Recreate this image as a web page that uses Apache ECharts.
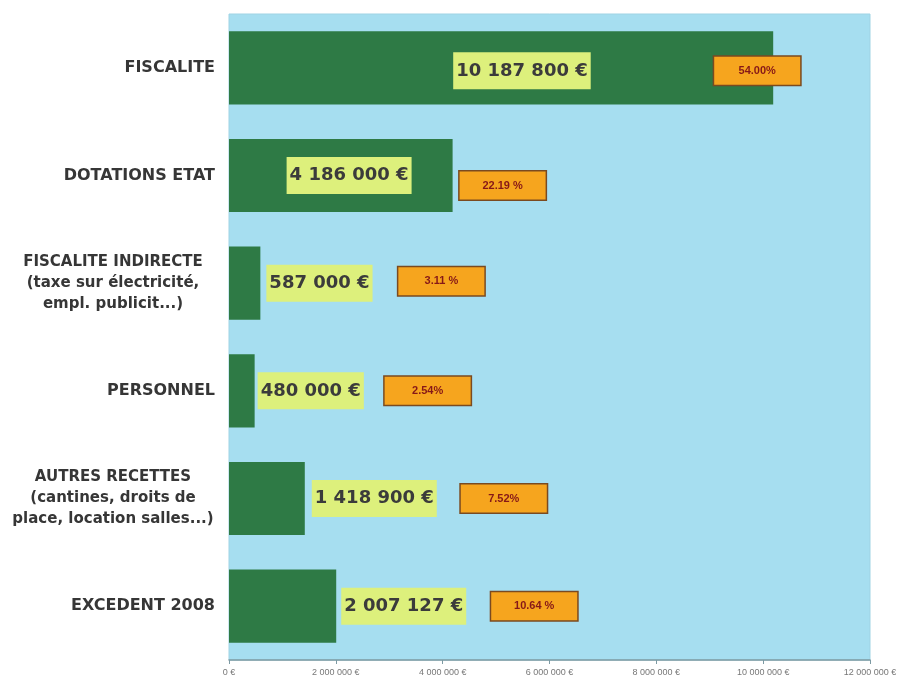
<!DOCTYPE html>
<html><head><meta charset="utf-8">
<script src="https://cdn.jsdelivr.net/npm/echarts@6/dist/echarts.min.js"></script>
<style>html,body{margin:0;padding:0;background:#fff}#c{width:918px;height:695px}</style>
</head><body><div id="c"></div>
<script>
var categories = ["FISCALITE", "DOTATIONS ETAT", "FISCALITE INDIRECTE\n(taxe sur électricité,\nempl. publicit...)", "PERSONNEL", "AUTRES RECETTES\n(cantines, droits de\nplace, location salles...)", "EXCEDENT 2008"];
var values = [10187800, 4186000, 587000, 480000, 1418900, 2007127];
var valueLabels = ["10 187 800 €", "4 186 000 €", "587 000 €", "480 000 €", "1 418 900 €", "2 007 127 €"];
var pctLabels = ["54.00%", "22.19 %", "3.11 %", "2.54%", "7.52%", "10.64 %"];
var axisTicks = [0, 2000000, 4000000, 6000000, 8000000, 10000000, 12000000];

// label layout (offsets relative to bar end)
var valOffsets = [[-320, 3], [-166, 0], [6, 0], [3, 0], [7, 0], [5, 0]];
var pctOffsets = [[-16, 3], [50, 10], [181, -2], [173, 0], [199, 0], [198, 0]];

function fmt(v) { return String(v).replace(/\B(?=(\d{3})+(?!\d))/g, ' ') + ' €'; }

var chart = echarts.init(document.getElementById('c'));
chart.setOption({
  animation: false,
  grid: { left: 229, right: 48, top: 14, bottom: 35, show: true, backgroundColor: '#a6def0', borderColor: '#9fd3e4', borderWidth: 1 },
  xAxis: {
    type: 'value', min: axisTicks[0], max: axisTicks[axisTicks.length - 1], interval: axisTicks[1] - axisTicks[0],
    splitLine: { show: false },
    axisLine: { show: true, lineStyle: { color: '#7d9aa3', width: 1.5 } },
    axisTick: { show: true, length: 4, lineStyle: { color: '#7d9aa3' } },
    axisLabel: { formatter: fmt, fontSize: 9, color: '#777', fontFamily: "'Liberation Sans', sans-serif", margin: 8 }
  },
  yAxis: {
    type: 'category', data: categories, inverse: true,
    axisLine: { show: false }, axisTick: { show: false },
    axisLabel: {
      color: '#363636', fontWeight: 'bold', fontSize: 16, fontFamily: "'DejaVu Sans'", margin: 14, lineHeight: 21, align: 'right',
      formatter: function (v) { return v.indexOf('\n') >= 0 ? v.split('\n').map(function (l) { return '{m|' + l + '}'; }).join('\n') : v; },
      rich: { m: { width: 204, align: 'center', fontWeight: 'bold', fontSize: 15, fontFamily: "'DejaVu Sans'", color: '#363636', lineHeight: 21 } }
    }
  },
  series: [
    {
      type: 'bar', barWidth: '68%',
      itemStyle: { color: '#2e7a45' },
      data: values.map(function (v, i) {
        return { value: v, label: { offset: valOffsets[i] } };
      }),
      label: {
        show: true, position: 'right', distance: 0,
        formatter: function (p) { return valueLabels[p.dataIndex]; },
        backgroundColor: '#ddf07c', color: '#3b3b3b', fontWeight: 'bold', fontSize: 18,
        fontFamily: "'DejaVu Sans'", padding: [10, 3, 9, 3]
      }
    },
    {
      type: 'bar', barWidth: '68%', barGap: '-100%',
      itemStyle: { color: 'transparent' },
      data: values.map(function (v, i) {
        return { value: v, label: { offset: pctOffsets[i] } };
      }),
      label: {
        show: true, position: 'right', distance: 0,
        formatter: function (p) { return pctLabels[p.dataIndex]; },
        backgroundColor: '#f6a51e', borderColor: '#7a4a20', borderWidth: 1.5,
        color: '#861818', fontWeight: 'bold', fontSize: 11,
        fontFamily: "'Liberation Sans', sans-serif", padding: [9, 8, 8, 8], width: 70, align: 'center'
      }
    }
  ]
});
</script></body></html>
